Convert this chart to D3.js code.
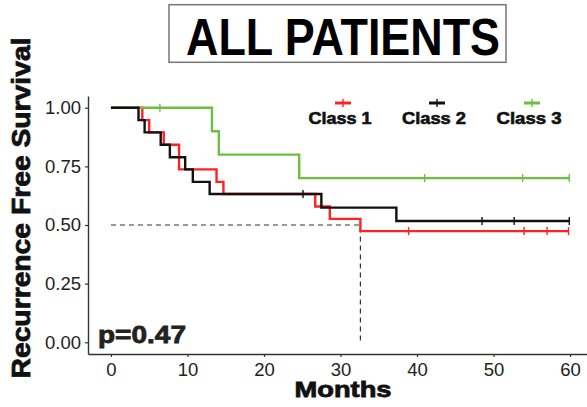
<!DOCTYPE html>
<html>
<head>
<meta charset="utf-8">
<script src="https://cdn.jsdelivr.net/npm/d3@7"></script>
<style>
  body { margin: 0; background: #fff; }
  svg { display: block; font-family: "Liberation Sans", Arial, sans-serif; }
</style>
</head>
<body>
<div id="container"></div>
<script>
// values (Kaplan-Meier steps)
let classNames = ["Class 1", "Class 2", "Class 3"];
let classColors = ["#ff2222", "#111111", "#6cbf3f"];

let class1Times = [0, 4.1, 5.0, 6.9, 8.9, 13.8, 14.7, 26.7, 28.6, 32.6];
let class1Surv = [1, 0.947, 0.895, 0.842, 0.737, 0.684, 0.632, 0.579, 0.526, 0.474];
let class1Censor = [38.9, 54.0, 57.0, 59.8];

let class2Times = [0, 3.6, 4.4, 6.5, 7.7, 9.7, 10.7, 12.9, 27.5, 37.3];
let class2Surv = [1, 0.947, 0.895, 0.842, 0.789, 0.737, 0.684, 0.632, 0.574, 0.517];
let class2Censor = [25.1, 48.5, 52.7, 59.9];

let class3Times = [0, 13.2, 14.1, 24.6];
let class3Surv = [1, 0.9, 0.8, 0.7];
let class3Censor = [6.4, 41.0, 53.8, 59.9];

let xTicks = [0, 10, 20, 30, 40, 50, 60];
let yTicks = [0, 0.25, 0.5, 0.75, 1];
let medianTime = 32.6;
let pText = "p=0.47";

let W = 587, H = 407;
let svg = d3.select("#container").append("svg").attr("width", W).attr("height", H);

let x = d3.scaleLinear().domain([-3, 63]).range([88, 593]);
let y = d3.scaleLinear().domain([-0.05, 1.05]).range([354, 96]);

// survival at time t for step function
let survAt = (times, surv, t) => {
  let s = surv[0];
  for (let i = 0; i < times.length; i++) if (times[i] <= t) s = surv[i];
  return s;
};

let series = [
  { times: class1Times, surv: class1Surv, censor: class1Censor, end: 59.8 },
  { times: class2Times, surv: class2Surv, censor: class2Censor, end: 59.9 },
  { times: class3Times, surv: class3Surv, censor: class3Censor, end: 59.9 }
];

// median dashed line
svg.append("path")
  .attr("d", `M${x(0)},${y(0.5)}H${x(medianTime)}V${y(0)}`)
  .attr("fill", "none")
  .attr("stroke", "#333")
  .attr("stroke-width", 1.2)
  .attr("stroke-dasharray", "5,4");

// axes
let xAxis = svg.append("g").attr("transform", `translate(0,354)`)
  .call(d3.axisBottom(x).tickValues(xTicks).tickSize(3).tickPadding(6).tickSizeOuter(0));
let yAxis = svg.append("g").attr("transform", `translate(88,0)`)
  .call(d3.axisLeft(y).tickValues(yTicks).tickFormat(d3.format(".2f")).tickSize(3).tickPadding(4).tickSizeOuter(0));

[xAxis, yAxis].forEach(a => {
  a.select(".domain").attr("stroke", "#333").attr("stroke-width", 1.4);
  a.selectAll(".tick line").attr("stroke", "#333").attr("stroke-width", 1.2);
  a.selectAll("text").attr("fill", "#222").style("font-size", "18.5px")
    .style("font-family", "'Liberation Sans', Arial, sans-serif");
});

// curves
let line = d3.line().curve(d3.curveStepAfter).x(d => x(d[0])).y(d => y(d[1]));
series.forEach((s, i) => {
  let pts = s.times.map((t, j) => [t, s.surv[j]]);
  pts.push([s.end, s.surv[s.surv.length - 1]]);
  svg.append("path")
    .attr("class", "km")
    .attr("d", line(pts))
    .attr("fill", "none")
    .attr("stroke", classColors[i])
    .attr("stroke-width", 2.4);
  svg.selectAll(null).data(s.censor).enter().append("line")
    .attr("x1", d => x(d)).attr("x2", d => x(d))
    .attr("y1", d => y(survAt(s.times, s.surv, d)) - 4)
    .attr("y2", d => y(survAt(s.times, s.surv, d)) + 4)
    .attr("stroke", classColors[i])
    .attr("stroke-width", 1.4);
});
// black drawn over red like the reference
svg.selectAll("path.km").filter(function () { return d3.select(this).attr("stroke") === classColors[1]; }).raise();

// legend
let legendX = [343, 437, 532];
let legendW = [63, 64, 65];
classNames.forEach((name, i) => {
  let g = svg.append("g");
  g.append("line")
    .attr("x1", legendX[i] - 8).attr("x2", legendX[i] + 8)
    .attr("y1", 103).attr("y2", 103)
    .attr("stroke", classColors[i]).attr("stroke-width", 3);
  g.append("line")
    .attr("x1", legendX[i]).attr("x2", legendX[i])
    .attr("y1", 99).attr("y2", 107)
    .attr("stroke", classColors[i]).attr("stroke-width", 1.4);
  g.append("text")
    .attr("x", legendX[i] - 3).attr("y", 123.5)
    .attr("text-anchor", "middle")
    .attr("textLength", legendW[i]).attr("lengthAdjust", "spacingAndGlyphs")
    .style("font-size", "16px").style("font-weight", "bold")
    .attr("stroke", "#111").attr("stroke-width", 0.6)
    .attr("fill", "#111")
    .text(name);
});

// p value
svg.append("text")
  .attr("x", 98).attr("y", 342.5)
  .attr("textLength", 88).attr("lengthAdjust", "spacingAndGlyphs")
  .style("font-size", "24.5px").style("font-weight", "bold")
  .attr("fill", "#222").attr("stroke", "#222").attr("stroke-width", 0.8)
  .text(pText);

// axis titles
svg.append("text")
  .attr("x", 343).attr("y", 397)
  .attr("text-anchor", "middle")
  .attr("textLength", 97).attr("lengthAdjust", "spacingAndGlyphs")
  .style("font-size", "22px").style("font-weight", "bold")
  .attr("fill", "#111").attr("stroke", "#111").attr("stroke-width", 0.8)
  .text("Months");

svg.append("text")
  .attr("transform", "translate(30,208) rotate(-90)")
  .attr("text-anchor", "middle")
  .attr("textLength", 341).attr("lengthAdjust", "spacingAndGlyphs")
  .style("font-size", "26px").style("font-weight", "bold")
  .attr("fill", "#111").attr("stroke", "#111").attr("stroke-width", 0.8)
  .text("Recurrence Free Survival");

// title box
svg.append("rect")
  .attr("x", 169).attr("y", 4.7).attr("width", 337).attr("height", 57.6)
  .attr("fill", "#fff").attr("stroke", "#777").attr("stroke-width", 1.5);
svg.append("text")
  .attr("x", 343).attr("y", 55)
  .attr("text-anchor", "middle")
  .attr("textLength", 314).attr("lengthAdjust", "spacingAndGlyphs")
  .style("font-size", "51px").style("font-weight", "bold")
  .attr("fill", "#000")
  .text("ALL PATIENTS");
</script>
</body>
</html>
